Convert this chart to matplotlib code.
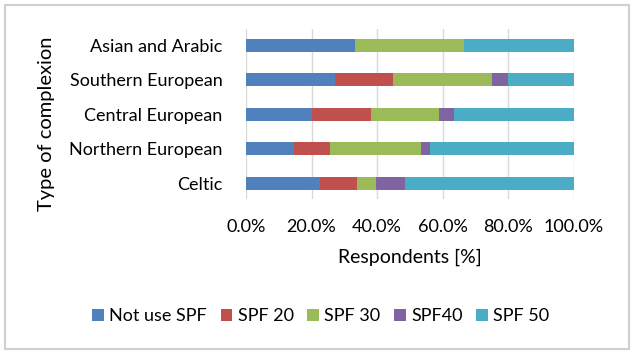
import matplotlib
matplotlib.use("Agg")
import matplotlib.pyplot as plt
from matplotlib.ticker import PercentFormatter
from matplotlib.patches import Rectangle
import numpy as np

plt.rcParams['font.family'] = ['Lato', 'DejaVu Sans']

# % of respondents
categories = ['Celtic', 'Northern European', 'Central European',
              'Southern European', 'Asian and Arabic']
not_use = [22.6, 14.5, 20.0, 27.3, 33.3]
spf20 = [11.4, 11.2, 18.1, 17.6, 0.0]
spf30 = [5.8, 27.7, 20.7, 30.0, 33.3]
spf40 = [8.6, 2.7, 4.7, 5.1, 0.0]
spf50 = [51.6, 43.9, 36.5, 20.0, 33.4]

series = [not_use, spf20, spf30, spf40, spf50]
names = ['Not use SPF', 'SPF 20', 'SPF 30', 'SPF40', 'SPF 50']
colors = ['#4F81BD', '#C0504D', '#9BBB59', '#8064A2', '#4BACC6']

fig = plt.figure(figsize=(6.33, 3.53), dpi=100)
ax = fig.add_axes([0.3886, 0.436, 0.518, 0.482])

y = np.arange(len(categories))
left = np.zeros(len(categories))
for vals, name, c in zip(series, names, colors):
    ax.barh(y, vals, left=left, height=0.38, color=c, label=name)
    left += np.array(vals)

ax.set_xlim(0, 100)
ax.set_ylim(-0.46, 4.48)
ax.set_xticks(np.arange(0, 101, 20))
ax.xaxis.set_major_formatter(PercentFormatter(100, decimals=1))
ax.set_yticks(y)
ax.set_yticklabels(categories)
ax.grid(axis='x', color='#D9D9D9', linewidth=1)
ax.set_axisbelow(True)
for s in ax.spines.values():
    s.set_visible(False)
ax.tick_params(axis='both', length=0, labelsize=13, colors='black')
ax.tick_params(axis='x', pad=14)
ax.tick_params(axis='y', pad=17)

ax.set_xlabel('Respondents [%]', fontsize=14, labelpad=10)
fig.text(0.073, 0.65, 'Type of complexion', rotation=90, fontsize=14.5,
         ha='center', va='center')

fig.legend(loc='center', bbox_to_anchor=(0.507, 0.105), ncol=5, frameon=False,
           fontsize=13, handlelength=0.65, handleheight=0.65, handletextpad=0.3,
           columnspacing=0.75)

fig.patches.append(Rectangle((0.008, 0.012), 0.985, 0.975, transform=fig.transFigure,
                             fill=False, edgecolor='#D0D0D0', linewidth=1.5))

fig.savefig('out.png', dpi=100)
